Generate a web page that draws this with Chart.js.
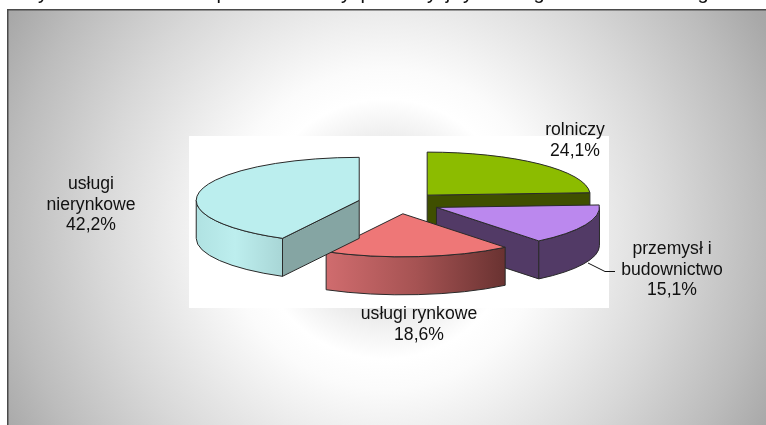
<!DOCTYPE html>
<html>
<head>
<meta charset="utf-8">
<style>html,body{margin:0;padding:0;background:#fff;overflow:hidden}canvas{display:block}</style>
<script src="https://cdn.jsdelivr.net/npm/chart.js@4"></script>
</head>
<body>
<canvas id="c" width="766" height="425"></canvas>
<script>
const categories = ['rolniczy', 'przemysł i budownictwo', 'usługi rynkowe', 'usługi nierynkowe'];
const shares = [24.1, 15.1, 18.6, 42.2];
const labelLines = [['rolniczy'], ['przemysł i', 'budownictwo'], ['usługi rynkowe'], ['usługi', 'nierynkowe']];
const topColors = ['#8cbc00', '#bb88ee', '#ee7777', '#bbeeee'];
const sideColors = ['#3f4f00', '#523a66', '#a65353', '#85a5a3'];
const labelCenters = [[575, 135], [672, 254], [419, 319], [91, 189]];
const titleGlyphs = ['y', 'p', 'y', 'p', 'y', 'j', 'y', 'g', 'g'];
const titleGlyphX = [43, 222, 346, 366, 432, 448, 468, 539, 703];

const squash = 0.264, explode = 41, depth = 38, edge = '#2a2a2a';

const pie3d = {
  id: 'pie3d',
  beforeDraw(chart) {
    const ctx = chart.ctx, a = chart.chartArea;
    ctx.save();
    ctx.fillStyle = '#fff';
    ctx.fillRect(0, 0, 766, 425);
    const g = ctx.createRadialGradient(385, 229, 0, 385, 229, 480);
    [[0, '#e4e4e4'], [80, '#e8e8e8'], [105, '#f4f4f4'], [130, '#ffffff'], [160, '#fbfbfb'],
     [200, '#f0f0f0'], [285, '#d8d8d8'], [375, '#bcbcbc'], [430, '#a8a8a8'], [480, '#a0a0a0']]
      .forEach(s => g.addColorStop(s[0] / 480, s[1]));
    ctx.fillStyle = g;
    ctx.fillRect(8, 10, 758, 415);
    ctx.fillStyle = '#4a4a4a';
    ctx.fillRect(7, 9, 759, 1.5);
    ctx.fillRect(7, 9, 1.5, 416);
    ctx.fillStyle = '#fff';
    ctx.fillRect(a.left, a.top, a.right - a.left, a.bottom - a.top);
    ctx.fillStyle = '#111';
    ctx.font = '20px "Liberation Sans"';
    ctx.textAlign = 'center'; ctx.textBaseline = 'alphabetic';
    titleGlyphs.forEach((t, i) => ctx.fillText(t, titleGlyphX[i], -1));
    ctx.restore();
  },
  beforeDatasetDraw(chart, args) {
    const ctx = chart.ctx;
    args.meta.data.forEach((arc, i) => {
      const mid = (arc.startAngle + arc.endAngle) / 2;
      const r = arc.outerRadius;
      const cx = arc.x + Math.cos(mid) * explode;
      const cy = arc.y - depth / 2 + Math.sin(mid) * explode * squash;
      const rim = t => [cx + Math.cos(t) * r, cy + Math.sin(t) * r * squash];
      const radial = t => {
        const p = rim(t);
        ctx.beginPath();
        ctx.moveTo(cx, cy); ctx.lineTo(p[0], p[1]);
        ctx.lineTo(p[0], p[1] + depth); ctx.lineTo(cx, cy + depth);
        ctx.closePath();
        ctx.fillStyle = sideColors[i];
        ctx.fill(); ctx.stroke();
      };
      ctx.save();
      ctx.strokeStyle = edge; ctx.lineWidth = 1; ctx.lineJoin = 'round';
      if (Math.cos(arc.startAngle) < -1e-6) radial(arc.startAngle);
      if (Math.cos(arc.endAngle) > 1e-6) radial(arc.endAngle);
      const a0 = Math.max(arc.startAngle, 0), a1 = Math.min(arc.endAngle, Math.PI);
      if (a1 > a0) {
        ctx.beginPath();
        ctx.ellipse(cx, cy, r, r * squash, 0, a0, a1);
        ctx.ellipse(cx, cy + depth, r, r * squash, 0, a1, a0, true);
        ctx.closePath();
        const p0 = rim(a0), p1 = rim(a1);
        let fill = sideColors[i];
        if (i === 2) {
          fill = ctx.createLinearGradient(Math.min(p0[0], p1[0]), 0, Math.max(p0[0], p1[0]), 0);
          fill.addColorStop(0, '#d06c6e'); fill.addColorStop(0.5, '#a65353'); fill.addColorStop(1, '#693231');
        } else if (i === 3) {
          fill = ctx.createLinearGradient(cx - r, 0, cx - r * 0.47, 0);
          fill.addColorStop(0, '#b0e2e2'); fill.addColorStop(0.45, '#bdeeee'); fill.addColorStop(1, '#a8d6d6');
        }
        ctx.fillStyle = fill;
        ctx.fill(); ctx.stroke();
      }
      ctx.save();
      ctx.translate(cx, cy); ctx.scale(1, squash); ctx.translate(-arc.x, -arc.y);
      arc.draw(ctx, chart.chartArea);
      ctx.restore();
      ctx.beginPath();
      ctx.moveTo(cx, cy);
      ctx.ellipse(cx, cy, r, r * squash, 0, arc.startAngle, arc.endAngle);
      ctx.closePath();
      ctx.stroke();
      ctx.restore();
    });
    return false;
  },
  afterDraw(chart) {
    const ctx = chart.ctx;
    ctx.save();
    ctx.strokeStyle = '#111'; ctx.lineWidth = 1;
    ctx.beginPath(); ctx.moveTo(588, 263); ctx.lineTo(605, 271.5); ctx.lineTo(615, 271.5); ctx.stroke();
    ctx.fillStyle = '#111';
    ctx.font = '17.6px "Liberation Sans"';
    ctx.textAlign = 'center'; ctx.textBaseline = 'alphabetic';
    categories.forEach((name, i) => {
      const lines = labelLines[i].concat(shares[i].toFixed(1).replace('.', ',') + '%');
      lines.forEach((t, j) => ctx.fillText(t, labelCenters[i][0], labelCenters[i][1] + j * 20.7));
    });
    ctx.restore();
  }
};

new Chart(document.getElementById('c'), {
  type: 'pie',
  data: {
    labels: categories,
    datasets: [{ data: shares, backgroundColor: topColors, borderWidth: 0 }]
  },
  options: {
    responsive: false,
    animation: false,
    radius: 163,
    rotation: 0,
    layout: { padding: { left: 189, right: 157, top: 136, bottom: 117 } },
    plugins: { legend: { display: false }, tooltip: { enabled: false }, title: { display: false } }
  },
  plugins: [pie3d]
});
</script>
</body>
</html>
